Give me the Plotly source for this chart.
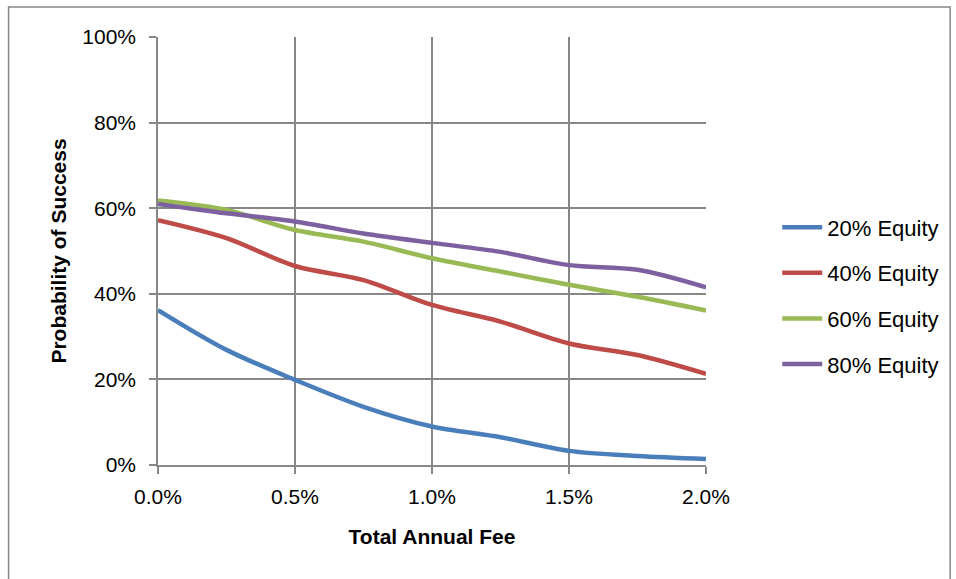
import plotly.graph_objects as go

# Total annual fee (%) on the x axis
fees = [0.0, 0.25, 0.5, 0.75, 1.0, 1.25, 1.5, 1.75, 2.0]

# Probability of success (%) for each equity allocation
equity_20 = [36.2, 26.9, 19.9, 13.6, 9.0, 6.5, 3.3, 2.1, 1.4]
equity_40 = [57.2, 53.0, 46.5, 43.2, 37.4, 33.5, 28.4, 25.7, 21.3]
equity_60 = [61.8, 59.6, 54.9, 52.2, 48.3, 45.2, 42.1, 39.3, 36.1]
equity_80 = [61.0, 58.8, 56.9, 54.1, 51.9, 49.8, 46.7, 45.6, 41.5]

series_names = ["20% Equity", "40% Equity", "60% Equity", "80% Equity"]
series_values = [equity_20, equity_40, equity_60, equity_80]
series_colors = ["#4A7EBB", "#BE4B48", "#98B954", "#7D60A0"]

x_ticks = [0.0, 0.5, 1.0, 1.5, 2.0]
x_tick_labels = ["0.0%", "0.5%", "1.0%", "1.5%", "2.0%"]
y_ticks = [0, 20, 40, 60, 80, 100]
y_tick_labels = ["0%", "20%", "40%", "60%", "80%", "100%"]

FONT = "Liberation Sans Narrow, Arial Narrow, Liberation Sans, Arial, sans-serif"
GRID = "#878787"

fig = go.Figure()
for i, (name, vals, col) in enumerate(zip(series_names, series_values, series_colors)):
    fig.add_trace(go.Scatter(
        x=fees, y=vals, name=name, mode="lines",
        line=dict(color=col, width=4.5, shape="spline", smoothing=0.9),
        legendgroup=f"g{i}",
    ))

fig.update_layout(
    width=956, height=579,
    margin=dict(l=158, r=248, t=37, b=114),
    paper_bgcolor="white", plot_bgcolor="white",
    font=dict(family=FONT, size=21, color="black"),
    showlegend=True,
    legend=dict(
        x=1.13, y=0.395, xanchor="left", yanchor="middle",
        font=dict(family=FONT, size=22, color="black"),
        tracegroupgap=14, itemwidth=40, bgcolor="rgba(0,0,0,0)",
    ),
    xaxis=dict(
        range=[0, 2.0], tickvals=x_ticks, ticktext=x_tick_labels,
        showgrid=True, gridcolor=GRID, gridwidth=1.5,
        showline=True, linecolor=GRID, linewidth=1.5,
        ticks="outside", ticklen=7, tickcolor=GRID, tickwidth=1.5,
        ticklabelstandoff=5,
        tickfont=dict(family=FONT, size=21), zeroline=False,
        title=dict(text="<b>Total Annual Fee</b>", font=dict(family=FONT, size=21), standoff=22),
        automargin=False,
    ),
    yaxis=dict(
        range=[0, 100], tickvals=y_ticks, ticktext=y_tick_labels,
        showgrid=True, gridcolor=GRID, gridwidth=1.5,
        showline=True, linecolor=GRID, linewidth=1.5,
        ticks="outside", ticklen=7, tickcolor=GRID, tickwidth=1.5,
        ticklabelstandoff=9,
        tickfont=dict(family=FONT, size=21), zeroline=False,
        title=dict(text="<b>Probability of Success</b>", font=dict(family=FONT, size=21), standoff=10),
        automargin=False,
    ),
)

# Outer chart frame
fig.add_shape(
    type="rect", xref="paper", yref="paper",
    x0=-0.2727, x1=1.4455, y0=-0.35, y1=1.0701,
    line=dict(color=GRID, width=1.5), fillcolor="rgba(0,0,0,0)", layer="below",
)

fig.write_html("out.html")
